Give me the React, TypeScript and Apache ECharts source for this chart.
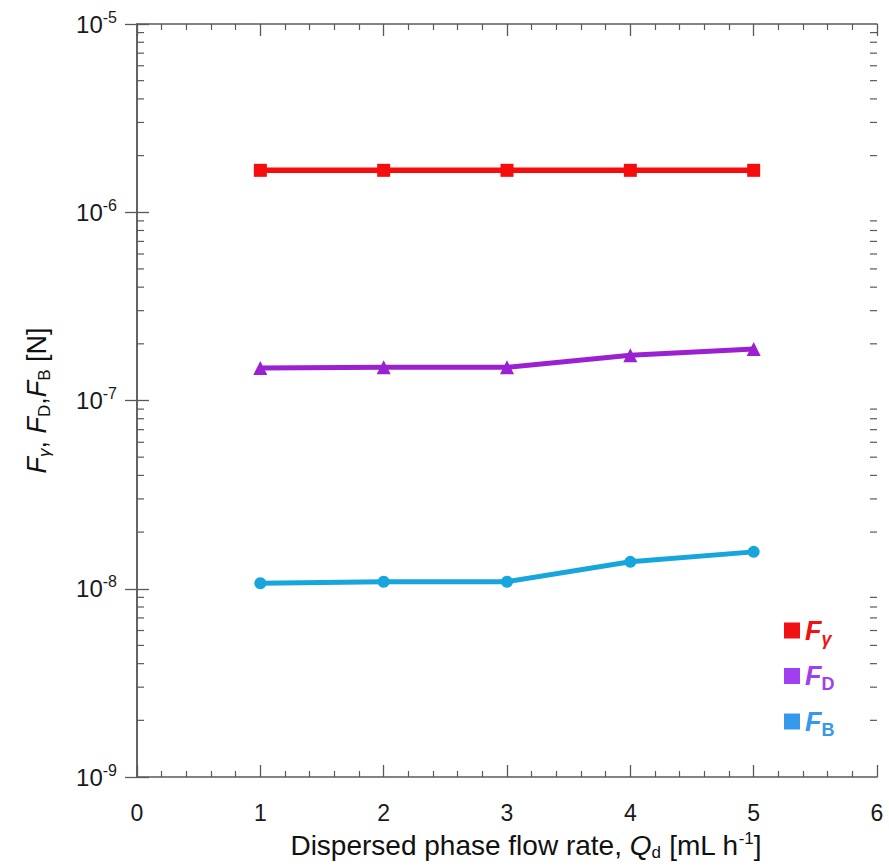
import React, { useEffect, useRef } from "react";
import * as echarts from "echarts";

// Dispersed phase flow rate Qd [mL h^-1]
const flowRates = [1, 2, 3, 4, 5];
// Interfacial tension force F_gamma [N]
const forceGamma = [1.67e-6, 1.67e-6, 1.67e-6, 1.67e-6, 1.67e-6];
// Drag force F_D [N]
const forceDrag = [1.49e-7, 1.5e-7, 1.5e-7, 1.74e-7, 1.88e-7];
// Buoyancy-type force F_B [N]
const forceB = [1.07e-8, 1.09e-8, 1.09e-8, 1.39e-8, 1.57e-8];

const seriesNames = ["Fg", "FD", "FB"];
const lineColors = ["#f50d0d", "#9a20d2", "#17a5dd"];
const legendColors = ["#f01212", "#a03ff0", "#3598ea"];

// Log decade limits of the force axis
const yMin = 1e-9;
const yMax = 1e-5;

// Minor tick values (2..9 within each decade)
const minorTickValues: number[] = [];
for (let e = -9; e < -5; e++) {
  for (let m = 2; m <= 9; m++) minorTickValues.push(m * Math.pow(10, e));
}

const axisColor = "#5a5a5a";
const font = "Liberation Sans, Arial, sans-serif";

export default function App() {
  const ref = useRef<HTMLDivElement>(null);

  useEffect(() => {
    if (!ref.current) return;
    const chart = echarts.init(ref.current, null, { renderer: "svg" });

    const mk = (ys: number[]) => flowRates.map((x, i) => [x, ys[i]]);

    const legendRich = (c: string, subItalic: boolean) => ({
      f: { fontSize: 27, fontStyle: "italic", fontWeight: "bold", color: c, fontFamily: font },
      s: {
        fontSize: 18,
        fontStyle: subItalic ? "italic" : "normal",
        fontWeight: "bold",
        color: c,
        fontFamily: font,
        verticalAlign: "bottom",
        padding: [16, 0, 0, 0],
      },
    });

    const logLabel = (v: number) => {
      const e = Math.round(Math.log10(v));
      return `{b|10}{e|${e}}`;
    };

    const option: any = {
      animation: false,
      backgroundColor: "#ffffff",
      grid: { left: 137, right: 12, top: 24, bottom: 89, containLabel: false },
      legend: {
        orient: "vertical",
        left: 779,
        top: 612,
        itemWidth: 16,
        itemHeight: 16,
        itemGap: 15,
        selectedMode: false,
        data: [
          {
            name: seriesNames[0],
            icon: "rect",
            itemStyle: { color: legendColors[0] },
            textStyle: { rich: legendRich(legendColors[0], true) },
          },
          {
            name: seriesNames[1],
            icon: "rect",
            itemStyle: { color: legendColors[1] },
            textStyle: { rich: legendRich(legendColors[1], false) },
          },
          {
            name: seriesNames[2],
            icon: "rect",
            itemStyle: { color: legendColors[2] },
            textStyle: { rich: legendRich(legendColors[2], false) },
          },
        ],
        formatter: (name: string) => {
          if (name === "Fg") return "{f|F}{s|γ}";
          if (name === "FD") return "{f|F}{s|D}";
          return "{f|F}{s|B}";
        },
      },
      xAxis: [
        {
          type: "value",
          min: 0,
          max: 6,
          interval: 1,
          position: "bottom",
          axisLine: { show: true, lineStyle: { color: axisColor, width: 1.5 } },
          axisTick: { show: true, inside: true, length: 12, lineStyle: { color: axisColor, width: 1.3 } },
          minorTick: { show: true, splitNumber: 5, length: 6, lineStyle: { color: axisColor, width: 1.2 } },
          splitLine: { show: false },
          axisLabel: { margin: 24, fontSize: 23, color: "#1a1a1a", fontFamily: font },
          name: "{n|Dispersed phase flow rate, }{i|Q}{s|d}{n| [mL h}{p|-1}{n|]}",
          nameLocation: "middle",
          nameGap: 53,
          nameTextStyle: {
            padding: [0, 0, 0, 38],
            rich: {
              n: { fontSize: 28, color: "#111", fontFamily: font },
              i: { fontSize: 28, color: "#111", fontFamily: font, fontStyle: "italic" },
              s: { fontSize: 17, color: "#111", fontFamily: font, verticalAlign: "bottom", padding: [14, 0, 0, 0] },
              p: { fontSize: 17, color: "#111", fontFamily: font, verticalAlign: "top", padding: [0, 0, 14, 0] },
            },
          },
        },
        {
          type: "value",
          min: 0,
          max: 6,
          interval: 1,
          position: "top",
          axisLine: { show: true, lineStyle: { color: axisColor, width: 1.5 } },
          axisTick: { show: true, inside: true, length: 12, lineStyle: { color: axisColor, width: 1.3 } },
          minorTick: { show: true, splitNumber: 5, length: 6, lineStyle: { color: axisColor, width: 1.2 } },
          splitLine: { show: false },
          axisLabel: { show: false },
        },
      ],
      yAxis: [
        {
          type: "log",
          logBase: 10,
          min: yMin,
          max: yMax,
          position: "left",
          axisLine: { show: true, lineStyle: { color: axisColor, width: 1.5 } },
          axisTick: { show: true, inside: true, length: 12, lineStyle: { color: axisColor, width: 1.3 } },
          splitLine: { show: false },
          axisLabel: {
            margin: 20,
            formatter: logLabel,
            rich: {
              b: { fontSize: 24, color: "#1a1a1a", fontFamily: font },
              e: { fontSize: 16, color: "#1a1a1a", fontFamily: font, verticalAlign: "top", padding: [0, 0, 14, 0] },
            },
          },
          name: "{f|F}{g|γ}{n|, }{f|F}{s|D}{n|,}{f|F}{s|B}{n| [N]}",
          nameLocation: "middle",
          nameGap: 84,
          nameRotate: 90,
          nameTextStyle: {
            rich: {
              f: { fontSize: 27, color: "#111", fontFamily: font, fontStyle: "italic" },
              n: { fontSize: 27, color: "#111", fontFamily: font },
              g: { fontSize: 17, color: "#111", fontFamily: font, fontStyle: "italic", verticalAlign: "bottom", padding: [16, 0, 0, 0] },
              s: { fontSize: 17, color: "#111", fontFamily: font, verticalAlign: "bottom", padding: [16, 0, 0, 0] },
            },
          },
        },
        {
          type: "log",
          logBase: 10,
          min: yMin,
          max: yMax,
          position: "right",
          axisLine: { show: true, lineStyle: { color: axisColor, width: 1.5 } },
          axisTick: { show: true, inside: true, length: 12, lineStyle: { color: axisColor, width: 1.3 } },
          splitLine: { show: false },
          axisLabel: { show: false },
        },
      ],
      series: [
        {
          name: seriesNames[2],
          type: "line",
          data: mk(forceB),
          symbol: "circle",
          symbolSize: 12,
          lineStyle: { color: lineColors[2], width: 5 },
          itemStyle: { color: lineColors[2] },
        },
        {
          name: seriesNames[1],
          type: "line",
          data: mk(forceDrag),
          symbol: "triangle",
          symbolSize: 14,
          lineStyle: { color: lineColors[1], width: 5 },
          itemStyle: { color: lineColors[1] },
        },
        {
          name: seriesNames[0],
          type: "line",
          data: mk(forceGamma),
          symbol: "rect",
          symbolSize: 13,
          lineStyle: { color: lineColors[0], width: 5.5 },
          itemStyle: { color: lineColors[0] },
        },
        {
          // log-scale minor ticks on the left and right frame edges
          name: "minorTicks",
          type: "custom",
          silent: true,
          clip: false,
          data: minorTickValues.map((v) => [0, v]),
          renderItem: (params: any, api: any) => {
            const v = api.value(1);
            const pl = api.coord([0, v]);
            const pr = api.coord([6, v]);
            const style = { stroke: axisColor, lineWidth: 1.2 };
            return {
              type: "group",
              children: [
                { type: "line", shape: { x1: pl[0], y1: pl[1], x2: pl[0] + 7, y2: pl[1] }, style },
                { type: "line", shape: { x1: pr[0], y1: pr[1], x2: pr[0] - 7, y2: pr[1] }, style },
              ],
            };
          },
        },
      ],
    };

    chart.setOption(option);
    return () => chart.dispose();
  }, []);

  return (
    <div
      ref={ref}
      style={{ position: "fixed", left: 0, top: 0, width: 889, height: 866, background: "#fff" }}
    />
  );
}
